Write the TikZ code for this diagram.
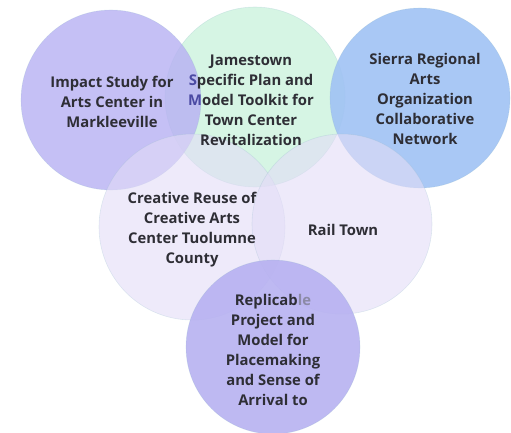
\documentclass[tikz,border=0pt]{standalone}
\usepackage{fontspec}
\setmainfont{Open Sans}
\definecolor{txt}{HTML}{2E2E35}
\definecolor{fade}{HTML}{8C8AA6}
\definecolor{tint}{HTML}{4B4AA3}
\definecolor{cgreen}{HTML}{D6F5E4}
\definecolor{cpurple}{RGB}{183,176,243}
\definecolor{cblue}{RGB}{160,194,244}
\definecolor{clight}{RGB}{227,220,247}
\definecolor{cdeep}{RGB}{183,177,241}
\definecolor{edgeline}{HTML}{8FB8C8}
\begin{document}
\begin{tikzpicture}[x=1pt,y=-1pt,
  font=\fontsize{14.8}{20}\selectfont\bfseries,
  lab/.style={align=center, text=txt, inner sep=0pt},
  blob/.style={circle, minimum size=180pt, inner sep=0pt, draw=edgeline, draw opacity=0.25, line width=0.6pt}]
\useasboundingbox (0,0) rectangle (511,433);
% circles
\node[blob, fill=cgreen] (c2) at (255,97) {};
\node[blob, fill=cpurple, fill opacity=0.8] (c1) at (111,100) {};
\node[blob, fill=cblue, fill opacity=0.9] (c3) at (420,98) {};
\node[blob, minimum size=186pt, fill=clight, fill opacity=0.6] (c4) at (192,227) {};
\node[blob, fill=clight, fill opacity=0.6] (c5) at (342,224) {};
\node[blob, minimum size=174pt, fill=cdeep, fill opacity=0.9] (c6) at (273,347) {};
% texts
\node[lab] (t2) at (251,100) {Jamestown\\\textcolor{tint}{S}pecific Plan and\\\textcolor{tint}{M}odel Toolkit for\\Town Center\\Revitalization};
\node[lab] (t1) at (112,102) {Impact Study for\\Arts Center in\\Markleeville};
\node[lab] (t3) at (425,99) {Sierra Regional\\Arts\\Organization\\Collaborative\\Network};
\node[lab] (t4) at (192,230) {Creative Reuse of\\Creative Arts\\Center Tuolumne\\County};
\node[lab] (t5) at (343,230) {Rail Town};
\node[lab] (t6) at (273,350) {Replicab\textcolor{fade}{le}\\Project and\\Model for\\Placemaking\\and Sense of\\Arrival to};
\end{tikzpicture}
\end{document}
